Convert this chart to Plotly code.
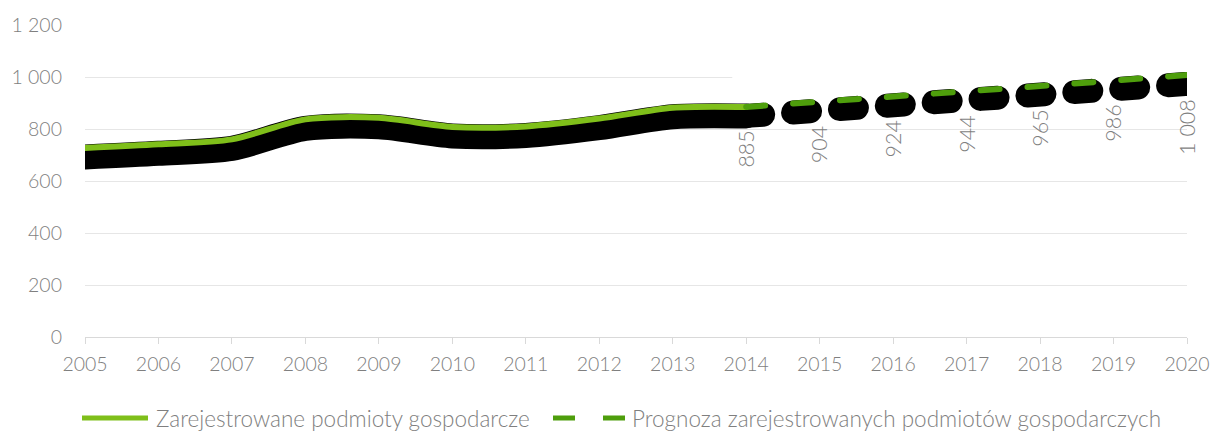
import plotly.graph_objects as go

# ---- data ----
hist_years = [2005, 2006, 2007, 2008, 2009, 2010, 2011, 2012, 2013, 2014]
hist_values = [727, 741, 760, 837, 843, 808, 810, 840, 882, 885]
fc_years = [2014, 2015, 2016, 2017, 2018, 2019, 2020]
fc_values = [885, 904, 924, 944, 965, 986, 1008]
y_ticks = [0, 200, 400, 600, 800, 1000, 1200]
series_names = ["Zarejestrowane podmioty gospodarcze",
                "Prognoza zarejestrowanych podmiotów gospodarczych"]

# ---- style ----
W, H = 1213, 432
ML, MR, MT, MB = 85, 26, 25, 95
plot_h = H - MT - MB
Y_MAX = 1200
shadow_px = 9
shadow_shift = shadow_px * Y_MAX / plot_h
LIGHT = "#7FBF1A"
DARK = "#4E9E0C"
GREY = "#7F7F7F"
FONT = "Lato"

fig = go.Figure()

# shadows (on y2, shifted down)
fig.add_trace(go.Scatter(x=hist_years, y=hist_values, mode="lines",
                         line=dict(color="black", width=25, shape="spline", smoothing=0.8),
                         yaxis="y2", hoverinfo="skip", showlegend=False))
fig.add_trace(go.Scatter(x=fc_years, y=fc_values, mode="lines",
                         line=dict(color="black", width=24, dash="17px,30px"),
                         yaxis="y2", hoverinfo="skip", showlegend=False))
# main lines (on y3)
fig.add_trace(go.Scatter(x=hist_years, y=hist_values, mode="lines", name=series_names[0],
                         line=dict(color=LIGHT, width=6, shape="spline", smoothing=0.8),
                         yaxis="y3", showlegend=False))
fig.add_trace(go.Scatter(x=fc_years, y=fc_values, mode="lines", name=series_names[1],
                         line=dict(color=DARK, width=6, dash="19px,28px"),
                         yaxis="y3", showlegend=False))

annotations = []
for x, v in zip(fc_years, fc_values):
    annotations.append(dict(x=x, y=v, xref="x", yref="y", text=f"{v:,}".replace(",", " "),
                            showarrow=False, textangle=-90, xanchor="center", yanchor="top",
                            yshift=-22, font=dict(family=FONT, size=21.5, color=GREY, weight=300)))

# manual legend
def px2paper_x(px):
    return (px - ML) / (W - ML - MR)

def px2paper_y(py):
    return (H - MB - py) / plot_h

leg_y = px2paper_y(418)
leg_font = dict(family=FONT, size=22.5, color=GREY, weight=300)
shapes = [
    dict(type="line", xref="paper", yref="paper", x0=px2paper_x(82), x1=px2paper_x(148),
         y0=leg_y, y1=leg_y, line=dict(color=LIGHT, width=5)),
    dict(type="line", xref="paper", yref="paper", x0=px2paper_x(553), x1=px2paper_x(625),
         y0=leg_y, y1=leg_y, line=dict(color=DARK, width=5, dash="22px,28px")),
    # white area hiding the 1000 gridline over the forecast part
    dict(type="rect", xref="x", yref="y", x0=2013.81, x1=2020, y0=960, y1=1030,
         fillcolor="white", line=dict(width=0), layer="between"),
]
annotations += [
    dict(x=px2paper_x(154), y=leg_y, xref="paper", yref="paper", text=series_names[0],
         showarrow=False, xanchor="left", yanchor="middle", font=leg_font),
    dict(x=px2paper_x(630), y=leg_y, xref="paper", yref="paper", text=series_names[1],
         showarrow=False, xanchor="left", yanchor="middle", font=leg_font),
]

tickfont = dict(family=FONT, size=19.5, color=GREY, weight=300)
fig.update_layout(
    width=W, height=H,
    margin=dict(l=ML, r=MR, t=MT, b=MB, pad=0, autoexpand=False),
    paper_bgcolor="white", plot_bgcolor="white",
    separators=", ",
    showlegend=False,
    xaxis=dict(range=[2005, 2020], tickmode="linear", tick0=2005, dtick=1,
               showgrid=False, zeroline=False, showline=True, linecolor="#D9D9D9", linewidth=1,
               ticks="outside", ticklen=6, tickcolor="#D9D9D9", tickfont=tickfont,
               tickformat="d", ticklabelstandoff=4, ticklabeloverflow="allow",
               automargin=False),
    yaxis=dict(range=[0, Y_MAX], tickvals=y_ticks, separatethousands=True,
               showgrid=True, gridcolor="#E6E6E6", gridwidth=1, zeroline=False,
               showline=False, ticks="", tickfont=tickfont, ticklabelstandoff=22,
               automargin=False),
    yaxis2=dict(range=[shadow_shift, Y_MAX + shadow_shift], overlaying="y", visible=False),
    yaxis3=dict(range=[0, Y_MAX], overlaying="y", visible=False),
    shapes=shapes,
    annotations=annotations,
)

post = (
    "document.body.style.margin='0';"
    "var gd=document.getElementById('{plot_id}');"
    "gd.querySelectorAll('.scatterlayer .js-line').forEach(function(p){"
    "p.style.strokeLinecap='round';p.style.strokeLinejoin='round';});"
)
fig.write_html("out.html", post_script=post, config={"displayModeBar": False})
